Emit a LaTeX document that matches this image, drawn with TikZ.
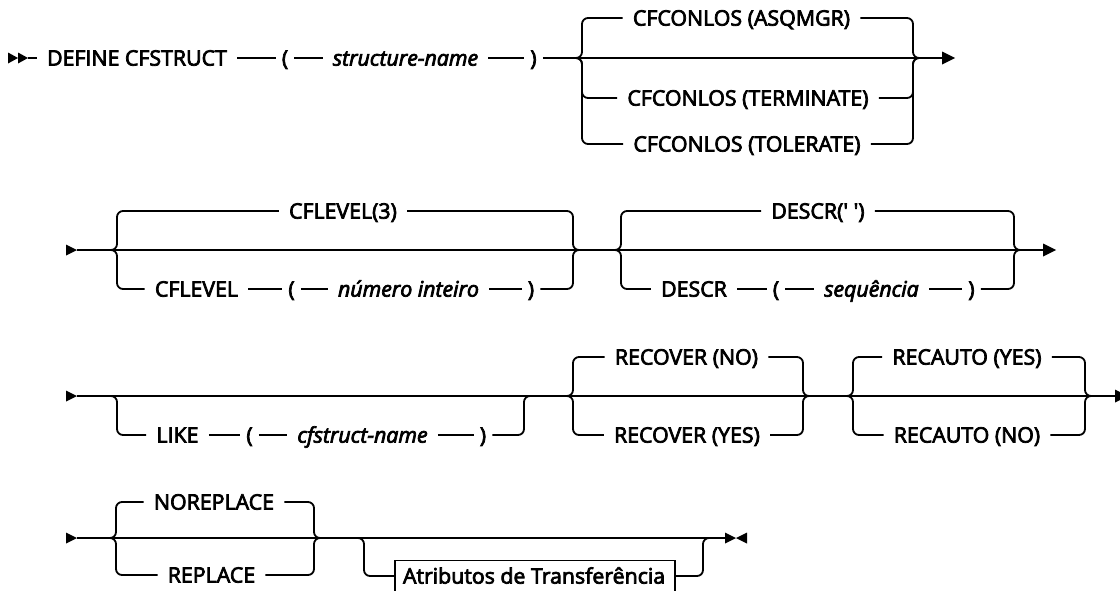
\documentclass[tikz,border=0pt]{standalone}
\usepackage{fontspec}
\newfontfamily\plexr{Open Sans}[Ligatures=TeXOff]
\usetikzlibrary{calc}
\tikzset{
  ln/.style={line width=1.35pt, rounded corners=4.5pt},
  heavy/.style={execute at begin node={\special{pdf:code q 2 Tr 0.55 w}}, execute at end node={\special{pdf:code Q}}},
  tok/.style={heavy, font=\plexr\fontsize{16pt}{19pt}\selectfont, inner xsep=7.5pt, inner ysep=0pt,
              text height=11.4pt, text depth=0pt, anchor=center},
  prn/.style={tok, inner xsep=4.5pt},
  var/.style={tok, font=\plexr\itshape\fontsize{16pt}{19pt}\selectfont},
  attrbox/.style={tok, draw, line width=0.8pt, inner xsep=6pt, inner ysep=6pt}
}
\newcommand\brleft[2]{\draw[ln] (#1) -- ++(7,0) |- (#2.west);}
\newcommand\brright[2]{\draw[ln] (#2.east) -| ($(#1)+(-7,0)$) -- (#1);}
\newcommand\tipR[1]{\fill (#1) -- ++(0,-6.5) -- ++(13,6.5) -- ++(-13,6.5) -- cycle;}
\newcommand\startR[1]{\fill (#1) -- ++(-11,-5.5) -- ++(0,11) -- cycle;}
\begin{document}
\begin{tikzpicture}[x=0.75pt,y=-0.75pt]
\useasboundingbox (0,0) rectangle (1120,590);
% ---------------- Row 1 ----------------
\coordinate (s1) at (28,58);
\fill (8,52.5) -- (18,58) -- (8,63.5) -- cycle;
\fill (18,52.5) -- (28,58) -- (18,63.5) -- cycle;
\node[tok] (define) at (137,58) {DEFINE CFSTRUCT};
\node[prn] (lp1) at (285,58) {(};
\node[var] (sname) at (405.5,58) {structure-name};
\node[prn] (rp1) at (533.5,58) {)};
\coordinate (c1L) at (575,58);
\coordinate (c1R) at (920,58);
\coordinate (e1) at (942,58);
\draw[ln] (s1) -- (define) (define) -- (lp1) (lp1) -- (sname) (sname) -- (rp1) (rp1) -- (e1);
\tipR{e1}
\node[tok] (asq) at (741.5,18) {CFCONLOS (ASQMGR)};
\node[tok] (term) at (748,98) {CFCONLOS (TERMINATE)};
\node[tok] (tol) at (747,144) {CFCONLOS (TOLERATE)};
\brleft{c1L}{asq} \brright{c1R}{asq}
\brleft{c1L}{term} \brright{c1R}{term}
\brleft{c1L}{tol} \brright{c1R}{tol}
% ---------------- Row 2 ----------------
\coordinate (s2) at (77,250);
\startR{s2}
\coordinate (c2L) at (110,250);
\coordinate (c2R) at (580,250);
\coordinate (c3L) at (614,250);
\coordinate (c3R) at (1021,250);
\coordinate (e2) at (1043,250);
\draw[ln] (s2) -- (e2);
\tipR{e2}
\node[tok] (lvl3) at (343,211) {CFLEVEL(3)};
\node[tok] (cfl) at (196.5,289) {CFLEVEL};
\node[prn] (lp2) at (291.5,289) {(};
\node[var] (num) at (408.5,289) {número inteiro};
\node[prn] (rp2) at (531,289) {)};
\brleft{c2L}{lvl3} \brright{c2R}{lvl3}
\brleft{c2L}{cfl} \brright{c2R}{rp2}
\draw[ln] (cfl) -- (lp2) (lp2) -- (num) (num) -- (rp2);
\node[tok] (dsc0) at (818,211) {DESCR(' ')};
\node[tok] (dsc) at (694,289) {DESCR};
\node[prn] (lp2b) at (776,289) {(};
\node[var] (seq) at (871.5,289) {sequência};
\node[prn] (rp2b) at (971.5,289) {)};
\brleft{c3L}{dsc0} \brright{c3R}{dsc0}
\brleft{c3L}{dsc} \brright{c3R}{rp2b}
\draw[ln] (dsc) -- (lp2b) (lp2b) -- (seq) (seq) -- (rp2b);
% ---------------- Row 3 ----------------
\coordinate (s3) at (77,396);
\startR{s3}
\coordinate (o3L) at (110,396);
\coordinate (o3R) at (531,396);
\coordinate (c4L) at (566,396);
\coordinate (c4R) at (810,396);
\coordinate (c5L) at (846,396);
\coordinate (c5R) at (1092,396);
\coordinate (e3) at (1115,396);
\draw[ln] (s3) -- (e3);
\tipR{e3}
\node[tok] (like) at (177.5,435) {LIKE};
\node[prn] (lp3) at (249.5,435) {(};
\node[var] (cfn) at (362.5,435) {cfstruct-name};
\node[prn] (rp3) at (483,435) {)};
\brleft{o3L}{like} \brright{o3R}{rp3}
\draw[ln] (like) -- (lp3) (lp3) -- (cfn) (cfn) -- (rp3);
\node[tok] (recno) at (686.5,357) {RECOVER (NO)};
\node[tok] (recyes) at (687,435) {RECOVER (YES)};
\brleft{c4L}{recno} \brright{c4R}{recno}
\brleft{c4L}{recyes} \brright{c4R}{recyes}
\node[tok] (rayes) at (967,357) {RECAUTO (YES)};
\node[tok] (rano) at (967,435) {RECAUTO (NO)};
\brleft{c5L}{rayes} \brright{c5R}{rayes}
\brleft{c5L}{rano} \brright{c5R}{rano}
% ---------------- Row 4 ----------------
\coordinate (s4) at (77,538);
\startR{s4}
\coordinate (c6L) at (109,538);
\coordinate (c6R) at (321,538);
\coordinate (o4L) at (357,538);
\coordinate (o4R) at (710,538);
\coordinate (e4) at (725,538);
\draw[ln] (s4) -- (e4);
\fill (725,532.5) -- (736,538) -- (725,543.5) -- cycle;
\fill (747,532.5) -- (736,538) -- (747,543.5) -- cycle;
\node[tok] (norep) at (214,502) {NOREPLACE};
\node[tok] (rep) at (211.5,575) {REPLACE};
\brleft{c6L}{norep} \brright{c6R}{norep}
\brleft{c6L}{rep} \brright{c6R}{rep}
\node[attrbox] (attr) at (535,576) {\makebox[198pt][l]{Atributos de Transferência}};
\brleft{o4L}{attr} \brright{o4R}{attr}
\end{tikzpicture}
\end{document}
